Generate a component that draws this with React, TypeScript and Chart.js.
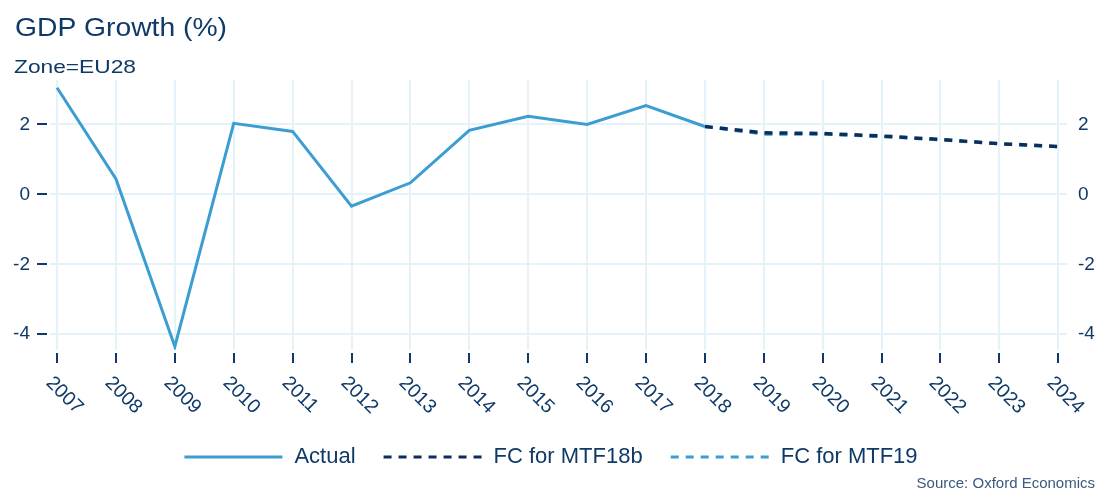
import React, { useEffect, useRef } from "react";
import { Chart, registerables } from "chart.js";

Chart.register(...registerables);

const YEARS = [2007, 2008, 2009, 2010, 2011, 2012, 2013, 2014, 2015, 2016, 2017, 2018, 2019, 2020, 2021, 2022, 2023, 2024];
const ACTUAL = [3.05, 0.44, -4.35, 2.03, 1.8, -0.34, 0.33, 1.83, 2.23, 2.0, 2.54, 1.94, null, null, null, null, null, null];
const FC_MTF18B = [null, null, null, null, null, null, null, null, null, null, null, 1.94, 1.76, 1.74, 1.67, 1.57, 1.45, 1.37];
const FC_MTF19 = [null, null, null, null, null, null, null, null, null, null, null, 1.94, 1.72, 1.72, 1.65, 1.56, 1.44, 1.36];
const Y_TICKS = [-4, -2, 0, 2];
const X_TICK_LABELS = YEARS.map(String);
const SERIES_NAMES = ["Actual", "FC for MTF18b", "FC for MTF19"];

const TITLE = "GDP Growth (%)";
const SUBTITLE = "Zone=EU28";
const SOURCE = "Source: Oxford Economics";

const TEXT = "#0f3a68";
const SOURCE_COLOR = "#3a5a7e";
const GRID = "#e4f3fa";
const BLUE = "#3c9dd2";
const NAVY = "#0b2f5c";
const FONT = '"Liberation Sans", Arial, sans-serif';
const LEGEND_SAMPLE = 98;

const toPoints = (vals: (number | null)[]) =>
  YEARS.map((yr, i) => ({ x: yr, y: vals[i] }));

const drawWide = (ctx: any, text: string, x: number, y: number, font: string, targetW: number) => {
  ctx.save();
  ctx.font = font;
  const w = ctx.measureText(text).width;
  const sx = w > 0 ? targetW / w : 1;
  ctx.translate(x, y);
  ctx.scale(sx, 1);
  ctx.fillText(text, 0, 0);
  ctx.restore();
};

const decor = {
  id: "decor",
  afterDraw(chart: any) {
    const { ctx, chartArea, scales } = chart;
    ctx.save();
    ctx.fillStyle = TEXT;
    ctx.textAlign = "left";
    ctx.textBaseline = "alphabetic";
    drawWide(ctx, TITLE, 15, 36, `25px ${FONT}`, 212);
    drawWide(ctx, SUBTITLE, 14, 73, `19px ${FONT}`, 122);

    ctx.font = `15px ${FONT}`;
    ctx.fillStyle = SOURCE_COLOR;
    ctx.textAlign = "right";
    ctx.fillText(SOURCE, 1095, 488);

    ctx.strokeStyle = TEXT;
    ctx.lineWidth = 2;
    const ys = scales.y;
    ys.ticks.forEach((t: any) => {
      const py = Math.round(ys.getPixelForValue(t.value));
      ctx.beginPath();
      ctx.moveTo(chartArea.left - 13, py);
      ctx.lineTo(chartArea.left - 3, py);
      ctx.stroke();
    });

    const xs = scales.x;
    ctx.fillStyle = TEXT;
    ctx.font = `19.5px ${FONT}`;
    ctx.textAlign = "left";
    ctx.textBaseline = "middle";
    xs.ticks.forEach((t: any, i: number) => {
      const px = Math.round(xs.getPixelForValue(t.value));
      ctx.beginPath();
      ctx.moveTo(px, chartArea.bottom + 3);
      ctx.lineTo(px, chartArea.bottom + 13);
      ctx.stroke();
      ctx.save();
      ctx.translate(px - 8, chartArea.bottom + 30);
      ctx.rotate(Math.PI / 4);
      ctx.fillText(X_TICK_LABELS[i], 0, 0);
      ctx.restore();
    });

    // legend samples (drawn at the legend's own hit boxes)
    const hbs = chart.legend?.legendHitBoxes || [];
    hbs.forEach((hb: any, i: number) => {
      const ds = chart.data.datasets[i];
      const y = Math.round(hb.top + hb.height / 2);
      ctx.save();
      ctx.strokeStyle = ds.borderColor;
      ctx.lineWidth = 3;
      ctx.lineCap = "butt";
      ctx.setLineDash(ds.borderDash || []);
      ctx.beginPath();
      ctx.moveTo(hb.left + 2, y);
      ctx.lineTo(hb.left + 2 + LEGEND_SAMPLE, y);
      ctx.stroke();
      ctx.restore();
    });
    ctx.restore();
  },
};

export default function App() {
  const ref = useRef<HTMLCanvasElement | null>(null);
  useEffect(() => {
    if (!ref.current) return;
    Chart.defaults.font.family = FONT;
    const chart = new Chart(ref.current, {
      type: "line",
      data: {
        datasets: [
          {
            label: SERIES_NAMES[0],
            data: toPoints(ACTUAL),
            borderColor: BLUE,
            backgroundColor: BLUE,
            borderWidth: 3,
            pointRadius: 0,
            tension: 0,
            spanGaps: false,
          },
          {
            label: SERIES_NAMES[1],
            data: toPoints(FC_MTF18B),
            borderColor: NAVY,
            backgroundColor: NAVY,
            borderWidth: 3.5,
            borderDash: [8, 7],
            pointRadius: 0,
            tension: 0,
          },
          {
            label: SERIES_NAMES[2],
            data: toPoints(FC_MTF19),
            borderColor: BLUE,
            backgroundColor: BLUE,
            borderWidth: 3,
            borderDash: [8, 7],
            pointRadius: 0,
            tension: 0,
          },
        ],
      },
      options: {
        animation: false,
        responsive: false,
        layout: { padding: { top: 80, bottom: 16, left: 0, right: 0 } },
        plugins: {
          title: { display: false },
          tooltip: { enabled: false },
          legend: {
            position: "bottom",
            labels: {
              usePointStyle: true,
              pointStyle: "line",
              pointStyleWidth: 101,
              padding: 26,
              color: TEXT,
              font: { size: 22, family: FONT },
              generateLabels: (c: any) =>
                Chart.defaults.plugins.legend.labels
                  .generateLabels(c)
                  .map((it: any) => ({
                    ...it,
                    strokeStyle: "rgba(0,0,0,0)",
                    fillStyle: "rgba(0,0,0,0)",
                  })),
            },
          },
        },
        scales: {
          x: {
            type: "linear",
            min: 2006.88,
            max: 2024.15,
            afterBuildTicks: (s: any) => {
              s.ticks = YEARS.map((v) => ({ value: v }));
            },
            afterFit: (s: any) => {
              s.height = 70;
            },
            ticks: { display: false },
            grid: { color: GRID, lineWidth: 2, drawTicks: false },
            border: { display: false },
          },
          y: {
            position: "left",
            min: -4.45,
            max: 3.27,
            afterBuildTicks: (s: any) => {
              s.ticks = Y_TICKS.map((v) => ({ value: v }));
            },
            afterFit: (s: any) => {
              s.width = 50;
            },
            ticks: {
              color: TEXT,
              padding: 20,
              font: { size: 19, family: FONT },
            },
            grid: { color: GRID, lineWidth: 2, drawTicks: false },
            border: { display: false },
          },
          y2: {
            position: "right",
            min: -4.45,
            max: 3.27,
            afterBuildTicks: (s: any) => {
              s.ticks = Y_TICKS.map((v) => ({ value: v }));
            },
            afterFit: (s: any) => {
              s.width = 33;
            },
            ticks: {
              color: TEXT,
              padding: 11,
              font: { size: 19, family: FONT },
            },
            grid: { display: false, drawTicks: false },
            border: { display: false },
          },
        },
      },
      plugins: [decor],
    } as any);
    return () => chart.destroy();
  }, []);
  return (
    <div style={{ position: "absolute", left: 0, top: 0, width: 1100, height: 494, background: "#fff" }}>
      <canvas ref={ref} width={1100} height={494} style={{ display: "block" }} />
    </div>
  );
}
